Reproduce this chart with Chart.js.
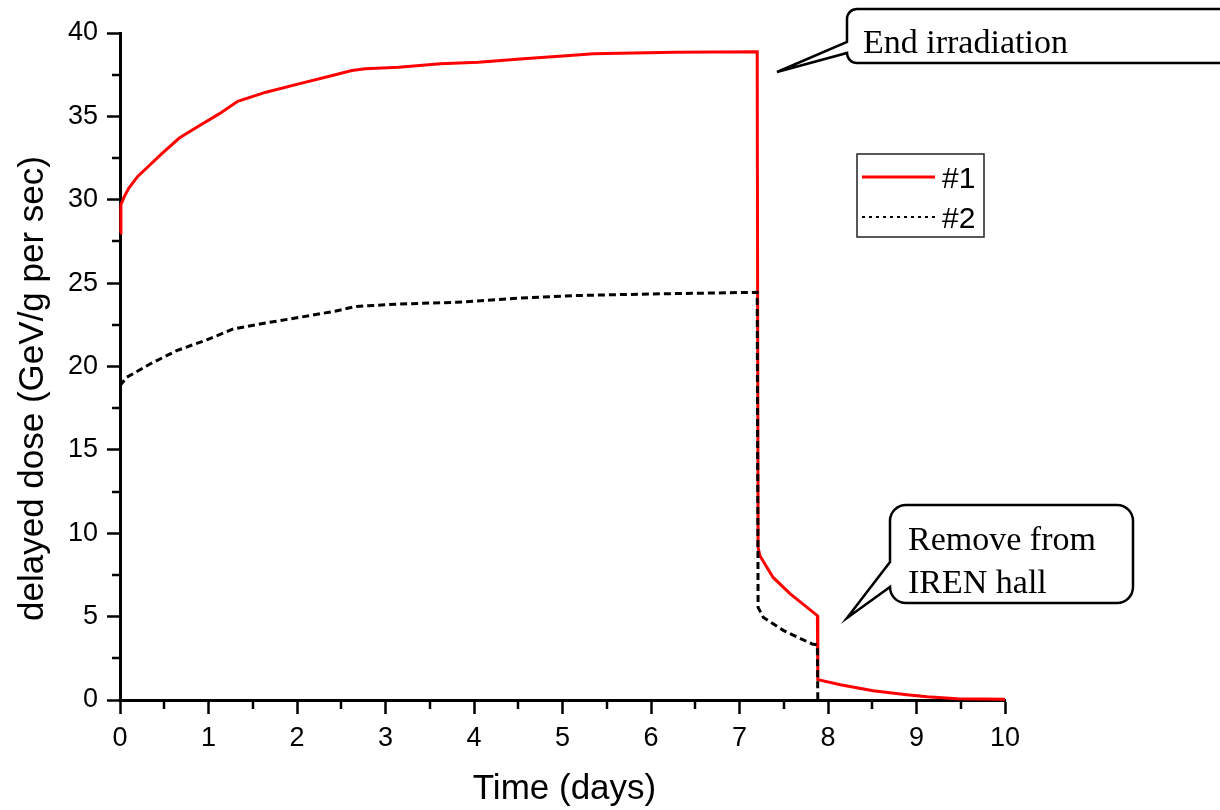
<!DOCTYPE html>
<html>
<head>
<meta charset="utf-8">
<script src="https://cdn.jsdelivr.net/npm/chart.js@4.4.1/dist/chart.umd.min.js"></script>
<style>
  html, body { margin: 0; padding: 0; background: #ffffff; }
  #wrap { width: 1220px; height: 810px; position: relative; }
</style>
</head>
<body>
<div id="wrap"><canvas id="chart" width="1220" height="810"></canvas></div>
<script>
// Sample #1: delayed dose during irradiation, after end of irradiation and after removal
const time1 = [0, 0.01, 0.05, 0.1, 0.2, 0.34, 0.47, 0.67, 0.9, 1.12, 1.33, 1.65, 2.02, 2.4, 2.62, 2.77,
               3.15, 3.62, 4.05, 4.56, 5.08, 5.35, 6.27, 7.2, 7.21, 7.23, 7.38, 7.57, 7.88, 7.885,
               8.14, 8.51, 8.89, 9.12, 9.46, 10];
const dose1 = [28.0, 29.7, 30.2, 30.7, 31.4, 32.1, 32.75, 33.7, 34.45, 35.15, 35.9, 36.45, 36.95, 37.45, 37.75, 37.85,
               37.95, 38.15, 38.25, 38.45, 38.65, 38.75, 38.85, 38.88, 9.15, 8.65, 7.35, 6.38, 5.06, 1.22,
               0.92, 0.56, 0.32, 0.2, 0.08, 0.05];

// Sample #2
const time2 = [0, 0.075, 0.34, 0.64, 0.98, 1.28, 1.58, 2.03, 2.41, 2.67, 3.16, 3.8, 4.52, 5.12, 5.99,
               7.2, 7.21, 7.27, 7.5, 7.82, 7.88, 7.885];
const dose2 = [18.85, 19.35, 20.15, 20.95, 21.6, 22.25, 22.55, 22.95, 23.3, 23.6, 23.75, 23.85, 24.1, 24.25, 24.35,
               24.45, 5.55, 4.95, 4.16, 3.36, 3.3, 0];

const seriesLabels = ['#1', '#2'];
const xTicks = [0, 1, 2, 3, 4, 5, 6, 7, 8, 9, 10];
const yTicks = [0, 5, 10, 15, 20, 25, 30, 35, 40];
const xMinorTicks = [0.5, 1.5, 2.5, 3.5, 4.5, 5.5, 6.5, 7.5, 8.5, 9.5];
const yMinorTicks = [2.5, 7.5, 12.5, 17.5, 22.5, 27.5, 32.5, 37.5];
const xTitle = 'Time (days)';
const yTitle = 'delayed dose (GeV/g per sec)';
const noteEnd = ['End irradiation'];
const noteRemove = ['Remove from', 'IREN hall'];

const SANS = '"Liberation Sans", Arial, sans-serif';
const SERIF = '"Liberation Serif", "Times New Roman", serif';

const toPoints = (xs, ys) => xs.map((x, i) => ({ x: x, y: ys[i] }));

// Minor tick marks on both axes
const minorTicks = {
  id: 'minorTicks',
  afterDraw(chart) {
    const { ctx, chartArea, scales } = chart;
    ctx.save();
    ctx.strokeStyle = '#000';
    ctx.lineWidth = 2.5;
    ctx.beginPath();
    xMinorTicks.forEach(v => {
      const px = Math.round(scales.x.getPixelForValue(v));
      ctx.moveTo(px, chartArea.bottom);
      ctx.lineTo(px, chartArea.bottom + 9);
    });
    yMinorTicks.forEach(v => {
      const py = Math.round(scales.y.getPixelForValue(v));
      ctx.moveTo(chartArea.left - 8, py);
      ctx.lineTo(chartArea.left, py);
    });
    ctx.stroke();
    ctx.restore();
  }
};

// Axis titles
const axisTitles = {
  id: 'axisTitles',
  afterDraw(chart) {
    const { ctx, chartArea } = chart;
    ctx.save();
    ctx.fillStyle = '#000';
    ctx.font = '35px ' + SANS;
    ctx.textAlign = 'center';
    ctx.textBaseline = 'middle';
    ctx.fillText(xTitle, (chartArea.left + chartArea.right) / 2 + 2, 789);
    ctx.translate(33, (chartArea.top + chartArea.bottom) / 2 + 22);
    ctx.rotate(-Math.PI / 2);
    ctx.fillText(yTitle, 0, 0);
    ctx.restore();
  }
};

// Framed legend inside the plot
const boxLegend = {
  id: 'boxLegend',
  afterDraw(chart) {
    const { ctx } = chart;
    const ds = chart.data.datasets;
    const x0 = 857, y0 = 154, w = 127, h = 83;
    ctx.save();
    ctx.fillStyle = '#fff';
    ctx.fillRect(x0, y0, w, h);
    ctx.strokeStyle = '#222';
    ctx.lineWidth = 1.5;
    ctx.strokeRect(x0, y0, w, h);
    const rows = [177, 217];
    ds.forEach((d, i) => {
      const y = rows[i];
      ctx.beginPath();
      ctx.strokeStyle = d.borderColor;
      ctx.lineWidth = i === 0 ? 3 : 2;
      ctx.setLineDash(i === 0 ? [] : [3, 4]);
      ctx.moveTo(862, y);
      ctx.lineTo(935, y);
      ctx.stroke();
      ctx.setLineDash([]);
      ctx.fillStyle = '#000';
      ctx.font = '30px ' + SANS;
      ctx.textAlign = 'left';
      ctx.textBaseline = 'alphabetic';
      ctx.fillText(d.label, 942, y + 11);
    });
    ctx.restore();
  }
};

// Speech-bubble notes
function bubble(ctx, b) {
  const { l, t, r, btm, rad, tailTop, tailBottom, tipX, tipY } = b;
  ctx.beginPath();
  ctx.moveTo(l + rad, t);
  ctx.lineTo(r - rad, t);
  ctx.arcTo(r, t, r, t + rad, rad);
  ctx.lineTo(r, btm - rad);
  ctx.arcTo(r, btm, r - rad, btm, rad);
  ctx.lineTo(l + rad, btm);
  ctx.arcTo(l, btm, l, btm - rad, rad);
  ctx.lineTo(l, tailBottom);
  ctx.lineTo(tipX, tipY);
  ctx.lineTo(l, tailTop);
  ctx.lineTo(l, t + rad);
  ctx.arcTo(l, t, l + rad, t, rad);
  ctx.closePath();
  ctx.fillStyle = '#fff';
  ctx.fill();
  ctx.strokeStyle = '#000';
  ctx.lineWidth = 2.5;
  ctx.stroke();
}

const notes = {
  id: 'notes',
  afterDraw(chart) {
    const { ctx } = chart;
    ctx.save();
    bubble(ctx, { l: 847, t: 9, r: 1245, btm: 63, rad: 10, tailTop: 42, tailBottom: 53, tipX: 777, tipY: 72 });
    bubble(ctx, { l: 890, t: 505, r: 1133, btm: 603, rad: 16, tailTop: 562, tailBottom: 587, tipX: 847, tipY: 618 });
    ctx.fillStyle = '#000';
    ctx.font = '34px ' + SERIF;
    ctx.textAlign = 'left';
    ctx.textBaseline = 'alphabetic';
    noteEnd.forEach((s, i) => ctx.fillText(s, 863, 53 + i * 43));
    noteRemove.forEach((s, i) => ctx.fillText(s, 908, 550 + i * 43));
    ctx.restore();
  }
};

new Chart(document.getElementById('chart'), {
  type: 'line',
  data: {
    datasets: [
      {
        label: seriesLabels[0],
        data: toPoints(time1, dose1),
        borderColor: '#ff0000',
        borderWidth: 3,
        pointRadius: 0,
        tension: 0,
        order: 1,
        clip: 4
      },
      {
        label: seriesLabels[1],
        data: toPoints(time2, dose2),
        borderColor: '#000000',
        borderWidth: 3,
        borderDash: [7, 4],
        pointRadius: 0,
        tension: 0,
        order: 0,
        clip: 4
      }
    ]
  },
  options: {
    responsive: false,
    animation: false,
    devicePixelRatio: 1,
    layout: { padding: { left: 0, right: 215, top: 33, bottom: 0 } },
    plugins: {
      legend: { display: false },
      tooltip: { enabled: false }
    },
    scales: {
      x: {
        type: 'linear',
        min: 0,
        max: 10,
        afterFit: s => { s.height = 110; },
        afterBuildTicks: s => { s.ticks = xTicks.map(v => ({ value: v })); },
        border: { display: true, color: '#000', width: 3 },
        grid: { drawOnChartArea: false, drawTicks: true, tickLength: 14, tickWidth: 2.5, tickColor: '#000' },
        ticks: { color: '#000', font: { family: SANS, size: 27 }, padding: 8, maxRotation: 0, autoSkip: false }
      },
      y: {
        type: 'linear',
        min: 0,
        max: 40,
        afterFit: s => { s.width = 120; },
        afterBuildTicks: s => { s.ticks = yTicks.map(v => ({ value: v })); },
        border: { display: true, color: '#000', width: 3 },
        grid: { drawOnChartArea: false, drawTicks: true, tickLength: 13, tickWidth: 2.5, tickColor: '#000' },
        ticks: { color: '#000', font: { family: SANS, size: 27 }, padding: 9, autoSkip: false }
      }
    }
  },
  plugins: [minorTicks, axisTitles, boxLegend, notes]
});
</script>
</body>
</html>
